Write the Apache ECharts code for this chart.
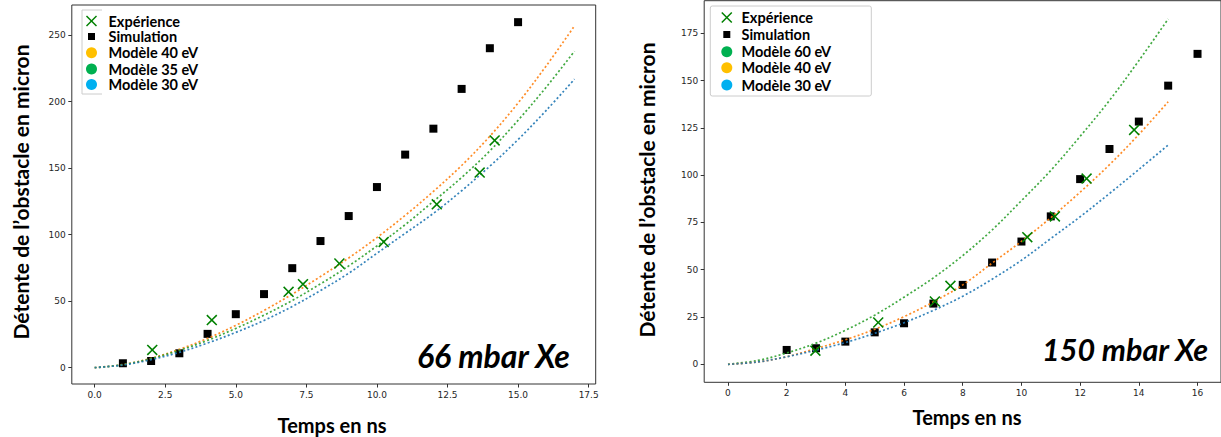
<!DOCTYPE html>
<html>
<head>
<meta charset="utf-8">
<script src="https://cdn.jsdelivr.net/npm/echarts@6/dist/echarts.min.js"></script>
<style>
html,body{margin:0;padding:0;background:#fff;}
#c{width:1221px;height:437px;}
</style>
</head>
<body>
<div id="c"></div>
<script>
// ---------- Left chart (66 mbar Xe) ----------
const leftModelTimes = [0,1,2,3,4,5,6,7,8,9,10,11,12,13,14,15,16,17];
const leftModel40 = [0,2.3,7,13.8,22,31.8,43,55.3,68.5,82.5,97.8,114.5,132.5,152,174,199,227,257];
const leftModel35 = [0,2.2,6.8,13,20.5,29.5,39.5,50.5,63,76.5,91.5,107.5,125,143,163,186,211,238];
const leftModel30 = [0,2,6,11.5,18.5,26.5,35.5,46,58,71,86,101,116,133,151.5,171.5,193.5,217];
const leftExpTimes = [2.04,4.15,6.87,7.38,8.67,10.24,12.12,13.64,14.17];
const leftExpValues = [13.3,35.8,57,62.8,78.3,94.5,122.8,146.7,170.9];
const leftSimTimes = [1,2,3,4,5,6,7,8,9,10,11,12,13,14,15];
const leftSimValues = [3.3,5,10.8,25.4,40.2,55.3,74.8,95.2,114,135.8,160.2,179.7,209.6,240.2,259.8];
const leftXTickValues = [0,2.5,5,7.5,10,12.5,15,17.5];
const leftXTickLabels = ['0.0','2.5','5.0','7.5','10.0','12.5','15.0','17.5'];
const leftYTickValues = [0,50,100,150,200,250];

// ---------- Right chart (150 mbar Xe) ----------
const rightModelTimes = [0,1,2,3,4,5,6,7,8,9,10,11,12,13,14,15];
const rightModel60 = [0,2,6,11.2,18,26,35.5,45.7,57.5,71,86.5,102.5,120.5,139.5,160.5,182.5];
const rightModel40 = [0,1.2,4,8.3,13,18.5,25.2,33,42,53.5,65,77.5,91,105.5,121.5,138.8];
const rightModel30 = [0,1.2,4,7.5,11.5,16.4,22,28.5,36,45,55,66.5,78,90.3,103,115.9];
const rightExpTimes = [2.98,5.12,7.05,7.58,10.2,11.14,12.22,13.84];
const rightExpValues = [7.2,22.1,33.2,41.5,67.2,78.2,98.2,123.9];
const rightSimTimes = [2,3,4,5,6,7,8,9,10,11,12,13,14,15,16];
const rightSimValues = [7.6,8.5,12,16.9,21.7,32.1,42,53.8,64.9,78.2,97.9,113.8,128.3,147.3,164.1];
const rightXTickValues = [0,2,4,6,8,10,12,14,16];
const rightYTickValues = [0,25,50,75,100,125,150,175];

const yTitle = 'Détente de l’obstacle en micron';
const xTitle = 'Temps en ns';
const leftLegend = ['Expérience','Simulation','Modèle 40 eV','Modèle 35 eV','Modèle 30 eV'];
const rightLegend = ['Expérience','Simulation','Modèle 60 eV','Modèle 40 eV','Modèle 30 eV'];
const leftLegendColors = ['#FFC000','#00B050','#00B0F0'];
const rightLegendColors = ['#00B050','#FFC000','#00B0F0'];

const C_ORANGE = '#ff7f0e', C_GREEN = '#2ca02c', C_BLUE = '#1f77b4';
const EXP_GREEN = '#008000';
const AXIS_C = '#333333';
const XPATH = 'path://M0,10L10,0L50,40L90,0L100,10L60,50L100,90L90,100L50,60L10,100L0,90L40,50Z';

function pairs(xs, ys){ return xs.map((x,i)=>[x, ys[i]]); }

function xAxisCfg(gridIndex, min, max, ticks, labels){
  return {
    type:'value', gridIndex, min, max, position:'bottom',
    axisLine:{show:false, onZero:false},
    splitLine:{show:false},
    axisTick:{show:true, inside:false, length:3.5, lineStyle:{color:AXIS_C, width:1}, customValues: ticks},
    axisLabel:{show:true, margin:6, fontSize:9, fontFamily:'DejaVu Sans', color:'#262626', customValues: ticks,
      formatter: v => { const i = ticks.indexOf(v); return labels ? (i>=0 ? labels[i] : '') : String(v); }}
  };
}
function yAxisCfg(gridIndex, min, max, ticks){
  return {
    type:'value', gridIndex, min, max, position:'left',
    axisLine:{show:false, onZero:false},
    splitLine:{show:false},
    axisTick:{show:true, inside:false, length:3.5, lineStyle:{color:AXIS_C, width:1}, customValues: ticks},
    axisLabel:{show:true, margin:6, fontSize:9, fontFamily:'DejaVu Sans', color:'#262626', customValues: ticks,
      formatter: v => String(v)}
  };
}
function modelSeries(idx, times, vals, color, name){
  return {
    type:'line', name, xAxisIndex:idx, yAxisIndex:idx, data:pairs(times, vals),
    smooth:0.35, showSymbol:false, symbol:'none', z:3, silent:true,
    lineStyle:{color, width:1.7, type:[2,2.3], cap:'butt', opacity:0.9}
  };
}
function simSeries(idx, xs, ys){
  return {type:'scatter', name:'Simulation', xAxisIndex:idx, yAxisIndex:idx, data:pairs(xs,ys),
    symbol:'rect', symbolSize:8, z:2, itemStyle:{color:'#000', opacity:1}};
}
function expSeries(idx, xs, ys){
  return {type:'scatter', name:'Expérience', xAxisIndex:idx, yAxisIndex:idx, data:pairs(xs,ys),
    symbol:XPATH, symbolSize:11, z:4, itemStyle:{color:EXP_GREEN, opacity:1}};
}

function legendGraphics(names, colors, mx, tx, ys, box){
  const els = [];
  if (box.type === 'rect') {
    els.push({type:'rect', shape:{x:box.x, y:box.y, width:box.w, height:box.h, r:2},
      style:{fill:'#fff', stroke:'#cccccc', lineWidth:1}, z:10});
  } else {
    els.push({type:'polyline', shape:{points:box.points}, style:{fill:'none', stroke:'#cccccc', lineWidth:1}, z:10});
  }
  els.push({type:'line', shape:{x1:mx-5, y1:ys[0]-5, x2:mx+5, y2:ys[0]+5}, style:{stroke:EXP_GREEN, lineWidth:1.5}, z:11});
  els.push({type:'line', shape:{x1:mx-5, y1:ys[0]+5, x2:mx+5, y2:ys[0]-5}, style:{stroke:EXP_GREEN, lineWidth:1.5}, z:11});
  els.push({type:'rect', shape:{x:mx-3.5, y:ys[1]-3.5, width:7, height:7}, style:{fill:'#000'}, z:11});
  for (let k=0;k<3;k++){
    els.push({type:'circle', shape:{cx:mx, cy:ys[2+k], r:5.5}, style:{fill:colors[k]}, z:11});
  }
  names.forEach((n,i)=>{
    els.push({type:'text', x:tx, y:ys[i], z:11,
      style:{text:n, font:'bold 14.5px Lato', fill:'#000', textAlign:'left', textVerticalAlign:'middle'}});
  });
  return els;
}

const graphics = [].concat(
  legendGraphics(leftLegend, leftLegendColors, 91.5, 108.5, [21,36.5,52.7,69,84.5],
    {type:'poly', points:[[102,10],[82,10],[82,94],[102,94]]}),
  legendGraphics(rightLegend, rightLegendColors, 726.8, 741.5, [17.5,34.5,51.7,67.7,85],
    {type:'rect', x:710.3, y:6, w:161, h:90}),
  [
    {type:'text', x:20, y:192, rotation:Math.PI/2,
      style:{text:yTitle, font:'bold 21px Lato', fill:'#000', textAlign:'center', textVerticalAlign:'middle'}},
    {type:'text', x:646, y:190, rotation:Math.PI/2,
      style:{text:yTitle, font:'bold 21px Lato', fill:'#000', textAlign:'center', textVerticalAlign:'middle'}},
    {type:'text', x:332, y:425,
      style:{text:xTitle, font:'bold 20px Lato', fill:'#000', textAlign:'center', textVerticalAlign:'middle'}},
    {type:'text', x:967, y:417,
      style:{text:xTitle, font:'bold 20px Lato', fill:'#000', textAlign:'center', textVerticalAlign:'middle'}},
    {type:'text', x:417, y:355,
      style:{text:'66 mbar Xe', font:'italic bold 32px Lato', fill:'#000', textAlign:'left', textVerticalAlign:'middle'}},
    {type:'text', x:1042, y:349,
      style:{text:'150 mbar Xe', font:'italic bold 30.5px Lato', fill:'#000', textAlign:'left', textVerticalAlign:'middle'}}
  ]
);

const chart = echarts.init(document.getElementById('c'), null, {renderer:'svg', width:1221, height:437});
chart.setOption({
  backgroundColor:'#fff',
  animation:false,
  grid:[
    {left:71.8, top:5, width:523.9, height:379, show:true, borderColor:AXIS_C, borderWidth:1, backgroundColor:'transparent', containLabel:false},
    {left:704.2, top:0.7, width:524.4, height:381.6, show:true, borderColor:AXIS_C, borderWidth:1, backgroundColor:'transparent', containLabel:false}
  ],
  xAxis:[
    xAxisCfg(0, -0.81, 17.75, leftXTickValues, leftXTickLabels),
    xAxisCfg(1, -0.81, 16.8, rightXTickValues, null)
  ],
  yAxis:[
    yAxisCfg(0, -12.3, 272.7, leftYTickValues),
    yAxisCfg(1, -9.5, 192.2, rightYTickValues)
  ],
  series:[
    simSeries(0, leftSimTimes, leftSimValues),
    modelSeries(0, leftModelTimes, leftModel40, C_ORANGE, 'Modèle 40 eV'),
    modelSeries(0, leftModelTimes, leftModel35, C_GREEN, 'Modèle 35 eV'),
    modelSeries(0, leftModelTimes, leftModel30, C_BLUE, 'Modèle 30 eV'),
    expSeries(0, leftExpTimes, leftExpValues),
    simSeries(1, rightSimTimes, rightSimValues),
    modelSeries(1, rightModelTimes, rightModel60, C_GREEN, 'Modèle 60 eV'),
    modelSeries(1, rightModelTimes, rightModel40, C_ORANGE, 'Modèle 40 eV'),
    modelSeries(1, rightModelTimes, rightModel30, C_BLUE, 'Modèle 30 eV'),
    expSeries(1, rightExpTimes, rightExpValues)
  ],
  graphic: graphics
});
</script>
</body>
</html>
